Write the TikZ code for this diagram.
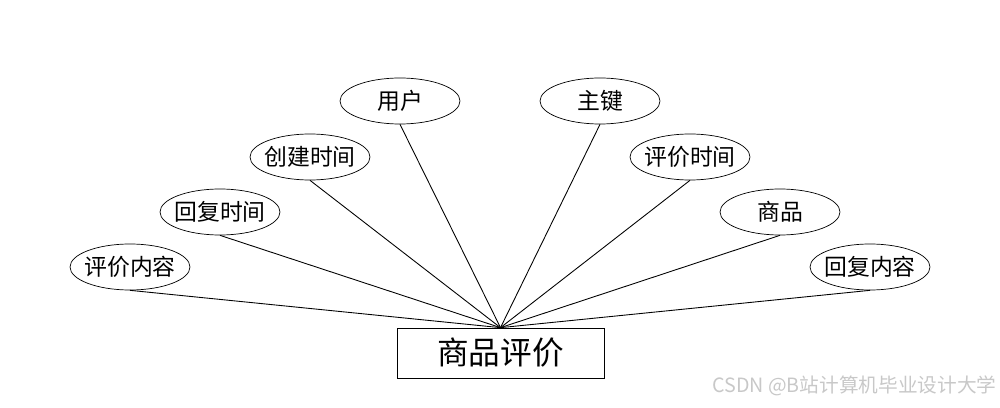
\documentclass[tikz,border=0pt]{standalone}
\usepackage{fontspec}
\usepackage{xcolor}
\usepackage{tikz}
\usetikzlibrary{shapes.geometric}
\setmainfont{Noto Sans CJK SC}
\definecolor{mark}{HTML}{C8C8C8}
\tikzset{
  attr/.style={draw,ellipse,minimum width=2.4cm,minimum height=0.92cm,inner xsep=-4pt,inner ysep=0pt,font=\fontsize{13}{15}\selectfont},
  entity/.style={draw,rectangle,minimum width=4.14cm,minimum height=1cm,inner sep=0pt,font=\fontsize{18}{21}\selectfont},
  link/.style={line width=0.5pt}
}
\begin{document}
\begin{tikzpicture}[x=0.02cm,y=-0.02cm]
  \useasboundingbox (0,0) rectangle (1000,408);
  \node[entity] (pj) at (500.5,353) {商品评价};
  \node[attr] (nr)  at (130,267) {评价内容};
  \node[attr] (hfsj) at (220,212) {回复时间};
  \node[attr] (cjsj) at (310,157) {创建时间};
  \node[attr] (yh)  at (400,101) {用户};
  \node[attr] (zj)  at (600,101) {主键};
  \node[attr] (pjsj) at (690,157) {评价时间};
  \node[attr] (sp)  at (780,212) {商品};
  \node[attr] (hfnr) at (870,267) {回复内容};
  \foreach \a in {nr,hfsj,cjsj,yh,zj,pjsj,sp,hfnr}
    \draw[link] (\a.south) -- (pj.north);
  \node[anchor=east,text=mark,font=\fontsize{11.2}{13}\selectfont,inner sep=0pt] (wm) at (997,386) {CSDN @B站计算机毕业设计大学};
\end{tikzpicture}
\end{document}
